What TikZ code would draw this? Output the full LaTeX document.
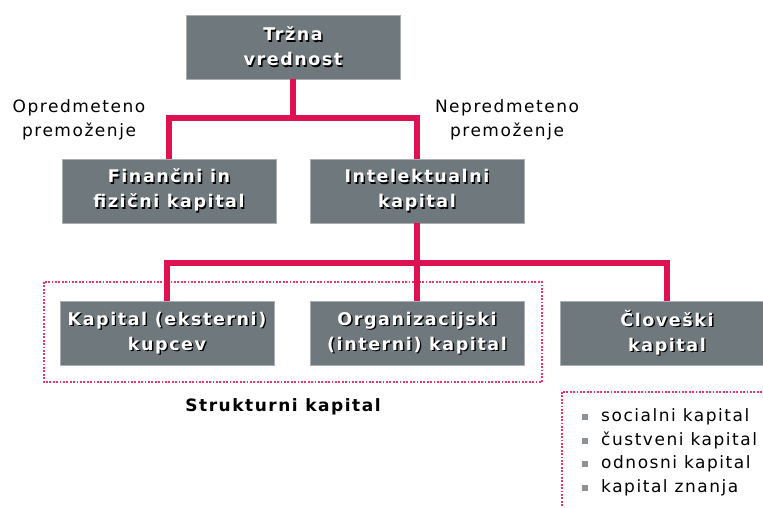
\documentclass[tikz,border=0pt]{standalone}
\usepackage{fontspec}
\setmainfont{DejaVu Sans}[LetterSpace=9]
\usepackage{tikz}

\definecolor{kri}{RGB}{222,18,82}
\definecolor{siva}{RGB}{111,120,124}
\definecolor{pika}{RGB}{140,146,150}
\newcommand{\senca}[1]{\rlap{\kern1.4pt\raisebox{-1.4pt}{\textcolor{black}{#1}}}#1}

\begin{document}
\begin{tikzpicture}[x=1pt,y=-1pt,font=\fontsize{17}{24}\selectfont,
        tocka/.style={anchor=west,inner sep=0pt,
            label={[fill=pika,minimum size=6pt,inner sep=0pt,label distance=13pt]left:{}}}]
        \clip (0,0) rectangle (763,508);
        % pikcasta okvirja
        \begin{scope}[draw=kri!85!white, line width=1.8pt, dash pattern=on 1.8pt off 1.6pt]
            \draw (44,282) rectangle (542,382);
            \draw (562,392) rectangle (800,560);
        \end{scope}

        \coordinate (r1) at (293,118);
        \coordinate (r2) at (417,263);

        \begin{scope}[every node/.style={fill=siva,draw=siva!60!white,text=white,inner sep=0pt,
                minimum width=214pt,minimum height=64pt,align=center,
                font=\fontsize{17.5}{25}\selectfont\bfseries}]
            \node (trzna) at (293,47) {\senca{Tržna}\\\senca{vrednost}};

            \node (financni) at (169,191) {\senca{Finančni in}\\\senca{fizični kapital}};
            \node (intel) at (417,191) {\senca{Intelektualni}\\\senca{kapital}};

            \node (kupci) at (167,333.5) {\senca{Kapital (eksterni)}\\\senca{kupcev}};
            \node (organiz) at (417,333.5) {\senca{Organizacijski}\\\senca{(interni) kapital}};
            \node (clovek) at (667,333.5) {\senca{Človeški}\\\senca{kapital}};
        \end{scope}

        \begin{scope}[every path/.style={draw=kri,line width=6pt}]
            \path (trzna.south) -- (r1);
            \path (financni.north) |- (r1) -| (intel.north);
            \path (intel.south) -- (organiz.north);
            \path (kupci.north) |- (r2) -| (clovek.north);
        \end{scope}

        \node (opredmeteno) [align=center] at (79,120) {Opredmeteno\\premoženje};
        \node (nepredmeteno) [align=center] at (507,120) {Nepredmeteno\\premoženje};
        \node (strukturni) at (283,407) {\bfseries Strukturni kapital};

        \node (socialni) [tocka] at (601,417) {socialni kapital};
        \node (custveni) [tocka] at (601,440.5) {čustveni kapital};
        \node (odnosni) [tocka] at (601,464) {odnosni kapital};
        \node (znanja) [tocka] at (601,487.5) {kapital znanja};
    \end{tikzpicture}
\end{document}
